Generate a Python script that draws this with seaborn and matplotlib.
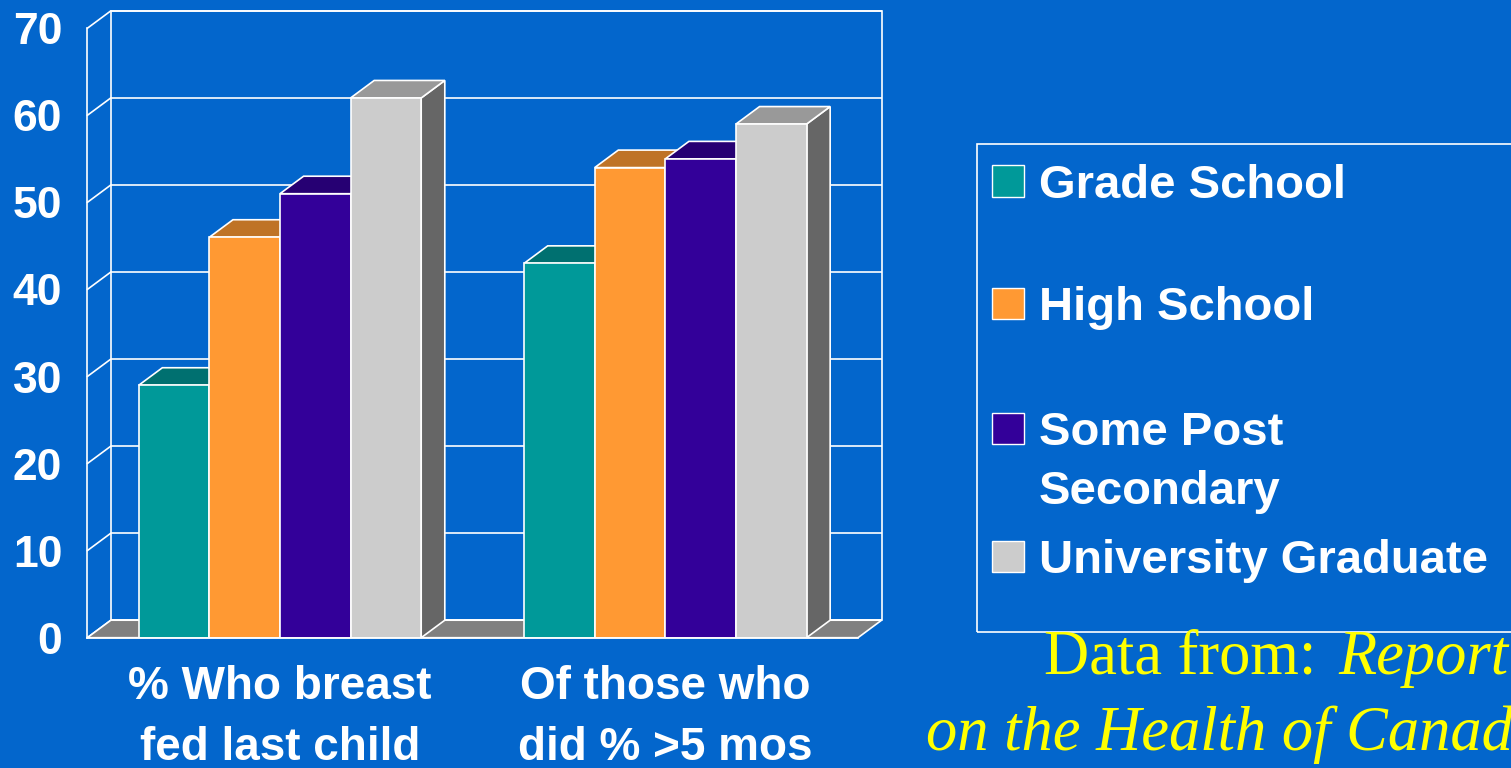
import numpy as np
import pandas as pd
import matplotlib
matplotlib.use("Agg")
import matplotlib.pyplot as plt
import seaborn as sns
from matplotlib.patches import Polygon, Rectangle

# ---- data -------------------------------------------------------------
categories = ["% Who breast\nfed last child", "Of those who\ndid % >5 mos"]
levels = ["Grade School", "High School", "Some Post\nSecondary", "University Graduate"]
grade_school = [29, 43]
high_school = [46, 54]
some_post_secondary = [51, 55]
university_graduate = [62, 59]
y_ticks = [0, 10, 20, 30, 40, 50, 60, 70]

# ---- styling ------------------------------------------------------------
BG = "#0366CC"
FRONT = ["#009999", "#FF9933", "#330099", "#CCCCCC"]
TOP = ["#007070", "#BF7326", "#260073", "#999999"]
SIDE = ["#006060", "#A65F1F", "#1F005C", "#666666"]
FLOOR = "#808080"
LINE = "white"
LW = 1.2
SANS = ["Liberation Sans", "DejaVu Sans"]
SERIF = ["Liberation Serif", "DejaVu Serif"]

sns.set_style("white")
plt.rcParams["font.family"] = SANS

df = pd.DataFrame({
    "category": categories * 4,
    "level": np.repeat(levels, len(categories)),
    "value": grade_school + high_school + some_post_secondary + university_graduate,
})

W, H = 1511, 768
fig = plt.figure(figsize=(W / 100, H / 100), dpi=100, facecolor=BG)


def fx(px):
    return px / W


def fy(py):
    return 1 - py / H


ax_left, ax_right, ax_top, ax_bottom = 87.3, 858.0, 28.3, 637.7
ax = fig.add_axes([fx(ax_left), fy(ax_bottom),
                   (ax_right - ax_left) / W, (ax_bottom - ax_top) / H])
ax.set_facecolor("none")

sns.barplot(data=df, x="category", y="value", hue="level",
            order=categories, hue_order=levels, palette=FRONT,
            saturation=1, width=0.733, errorbar=None, legend=False,
            edgecolor=LINE, linewidth=LW, zorder=3, ax=ax)

ax.set_xlim(-0.5, 1.5)
ax.set_ylim(0, 70)
ax.set_xlabel("")
ax.set_ylabel("")

# depth of the 3-D box, in data units
sx = (ax_right - ax_left) / 2.0
sy = (ax_bottom - ax_top) / 70.0
dx = 23.6 / sx
dz = 17.5 / sy
x0, x1 = -0.5, 1.5
ymax = 70

# floor
ax.add_patch(Polygon([(x0, 0), (x1, 0), (x1 + dx, dz), (x0 + dx, dz)],
                     closed=True, facecolor=FLOOR, edgecolor=LINE, lw=LW,
                     zorder=1.5, clip_on=False))
# back wall outline and grid
ax.add_patch(Rectangle((x0 + dx, dz), x1 - x0, ymax, fill=False,
                       edgecolor=LINE, lw=LW, zorder=1, clip_on=False))
for v in y_ticks:
    ax.plot([x0 + dx, x1 + dx], [v + dz, v + dz], color=LINE, lw=LW,
            zorder=1, clip_on=False, solid_capstyle="butt")
    ax.plot([x0, x0 + dx], [v, v + dz], color=LINE, lw=LW,
            zorder=1, clip_on=False)

# 3-D tops and sides of the bars
bars = []
for li, cont in enumerate(ax.containers):
    for p in cont:
        bars.append((p.get_x(), p, li))
bars.sort(key=lambda t: t[0])
for _, p, li in bars:
    bx, bw, bh = p.get_x(), p.get_width(), p.get_height()
    side = [(bx + bw, 0), (bx + bw + dx, dz), (bx + bw + dx, bh + dz), (bx + bw, bh)]
    top = [(bx, bh), (bx + bw, bh), (bx + bw + dx, bh + dz), (bx + dx, bh + dz)]
    ax.add_patch(Polygon(side, closed=True, facecolor=SIDE[li], edgecolor=LINE,
                         lw=LW, zorder=2, clip_on=False))
    ax.add_patch(Polygon(top, closed=True, facecolor=TOP[li], edgecolor=LINE,
                         lw=LW, zorder=2, clip_on=False))

# axes, ticks and labels
for s in ["top", "right"]:
    ax.spines[s].set_visible(False)
for s in ["left", "bottom"]:
    ax.spines[s].set_color(LINE)
    ax.spines[s].set_linewidth(LW)
    ax.spines[s].set_zorder(4)

ax.set_yticks(y_ticks)
ax.set_yticklabels([str(v) for v in y_ticks])
ax.tick_params(axis="y", length=10, width=LW, color=LINE, pad=8,
               labelsize=32, labelcolor="white")
ax.set_xticks([0, 1])
ax.set_xticklabels(categories)
ax.set_xticks([-0.5, 0.5, 1.5], minor=True)
ax.tick_params(axis="x", which="major", length=0, pad=20,
               labelsize=33, labelcolor="white")
ax.tick_params(axis="x", which="minor", length=11, width=LW, color=LINE)
for lab in ax.get_yticklabels():
    lab.set_fontweight("bold")
for lab in ax.get_xticklabels():
    lab.set_fontweight("bold")
    lab.set_linespacing(1.48)
ax.grid(False)

# legend
fig.add_artist(Rectangle((fx(977), fy(632)), (W + 20 - 977) / W, (632 - 144) / H,
                         transform=fig.transFigure, fill=False,
                         edgecolor=LINE, lw=LW, clip_on=False))
legend_centres = [181, 303, 428, 556]
sq = 31
for li, (label, cy) in enumerate(zip(levels, legend_centres)):
    fig.add_artist(Rectangle((fx(992.5), fy(cy + sq / 2)), sq / W, sq / H,
                             transform=fig.transFigure, facecolor=FRONT[li],
                             edgecolor=LINE, lw=1.0))
    for k, line in enumerate(label.split("\n")):
        fig.text(fx(1039), fy(cy + 17 + 59 * k), line, color="white",
                 fontsize=34, fontweight="bold", va="baseline", ha="left")

# source note
renderer = fig.canvas.get_renderer()
t1 = fig.text(fx(1044), fy(674), "Data from:", color="#FFFF00",
              fontsize=45, family=SERIF, va="baseline", ha="left")
bb = t1.get_window_extent(renderer)
fig.text((bb.x1 + 22) / W, fy(674), "Report", color="#FFFF00",
         fontsize=45, family=SERIF, style="italic", va="baseline", ha="left")
fig.text(fx(926), fy(750), "on the Health of Canadians", color="#FFFF00",
         fontsize=45, family=SERIF, style="italic", va="baseline", ha="left")

fig.savefig("out.png", dpi=100, facecolor=BG)
